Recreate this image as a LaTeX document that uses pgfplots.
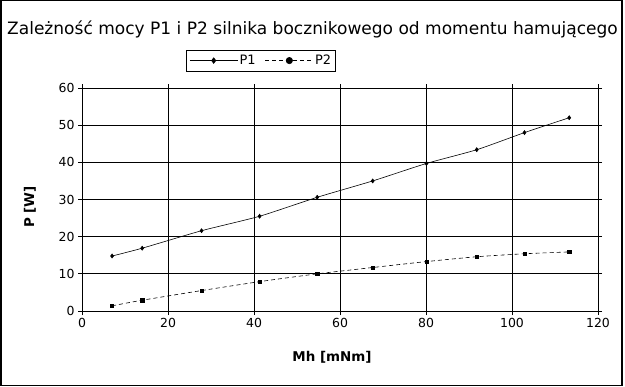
\documentclass[border=0pt]{standalone}
\usepackage{fontspec}
\setmainfont{DejaVu Sans}
\usepackage{pgfplots}
\pgfplotsset{compat=1.18}
\begin{document}
\begin{tikzpicture}[x=1bp,y=1bp]
\useasboundingbox (0,0) rectangle (625,386);
\begin{scope}
\clip (0,0) rectangle (625,386);
\fill[white] (0,0) rectangle (625,386);
\node[font=\fontsize{17.1}{20}\selectfont, anchor=center, inner sep=0pt] at (312.5,357) {Zależność mocy P1 i P2 silnika bocznikowego od momentu hamującego};
\begin{axis}[
  at={(82bp,75bp)}, anchor=south west,
  scale only axis, width=516bp, height=223bp,
  xmin=0, xmax=120, ymin=0, ymax=60,
  xtick={0,20,...,120}, ytick={0,10,...,60},
  grid=major, major grid style={black, line width=0.8pt},
  axis line style={black, line width=0.8pt},
  tick style={black, line width=0.8pt},
  tick align=outside, major tick length=4bp,
  ticklabel style={font=\fontsize{12.5}{14}\selectfont},
  /pgf/number format/assume math mode=true,
  xlabel={\textbf{Mh [mNm]}}, ylabel={\textbf{P [W]}},
  label style={font=\fontsize{13.5}{15}\selectfont},
  xlabel style={at={(axis description cs:0.4845,-0.206)}, anchor=center},
  ylabel style={at={(axis description cs:-0.1008,0.466)}, anchor=center},
  legend columns=2,
  legend style={at={(axis description cs:0.347,1.123)}, anchor=center, draw=black, line width=0.6pt,
    font=\fontsize{13}{15}\selectfont, inner xsep=3bp, inner ysep=3.5bp,
    /tikz/every even column/.append style={column sep=8bp},
    nodes={inner sep=1.5bp}},
  legend image code/.code={\draw[mark repeat=2,mark phase=2,#1] plot coordinates {(0bp,0bp)(24bp,0bp)(48bp,0bp)};},
]
\addplot[black, line width=0.6pt, smooth, tension=0.4, mark=diamond*, mark size=2bp, mark options={solid},
  legend image post style={mark size=2.8bp}] coordinates {
(7,14.8)(14,16.9)(27.8,21.6)(41.3,25.5)(54.7,30.6)(67.6,35.0)(80.1,39.7)(91.8,43.4)(102.9,48.0)(113.3,52.0)};
\addlegendentry{P1}
\addplot[black, line width=0.6pt, smooth, tension=0.4, dash pattern=on 4bp off 3bp, mark=square*, mark size=1.6bp, mark options={solid},
  legend image post style={mark=*, mark size=3.2bp}] coordinates {
(7,1.4)(14,2.9)(27.8,5.5)(41.3,7.9)(54.7,10.0)(67.6,11.7)(80.1,13.3)(91.8,14.6)(102.9,15.4)(113.3,15.9)};
\addlegendentry{P2}
\end{axis}
\end{scope}
\draw[black, line width=1.5bp] (0.75,0.75) rectangle (622,385.25);
\end{tikzpicture}
\end{document}
